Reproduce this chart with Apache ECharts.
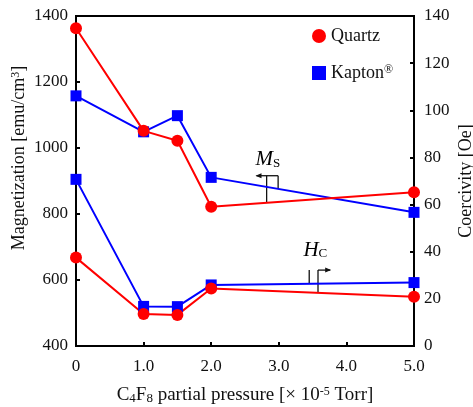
<!DOCTYPE html>
<html>
<head>
<meta charset="utf-8">
<script src="https://cdn.jsdelivr.net/npm/echarts@6/dist/echarts.min.js"></script>
<style>
  html, body { margin: 0; padding: 0; background: #fff; }
  #chart { width: 473px; height: 407px; }
</style>
</head>
<body>
<div id="chart"></div>
<script>
// C4F8 partial pressure (x 10^-5 Torr)
var pressure = [0, 1.0, 1.5, 2.0, 5.0]
// saturation magnetization [emu/cm3], left axis
var quartzMs = [1363, 1052, 1022, 822, 866]
var kaptonMs = [1158, 1049, 1098, 911, 805]
// coercivity [Oe], right axis
var quartzHc = [37.5, 13.6, 13.2, 24.4, 20.9]
var kaptonHc = [70.7, 16.8, 16.7, 25.9, 26.9]

var RED = '#ff0000'
var BLUE = '#0000ff'
var FONT = 'Liberation Serif'
var INK = '#111'

function pairs (xs, ys) {
  return xs.map(function (x, i) { return [x, ys[i]] })
}

// linear interpolation along a series, used to land the bracket feet on the lines
function interp (xs, ys, x) {
  for (var i = 0; i < xs.length - 1; i++) {
    if (x >= xs[i] && x <= xs[i + 1]) {
      var t = (x - xs[i]) / (xs[i + 1] - xs[i])
      return ys[i] + t * (ys[i + 1] - ys[i])
    }
  }
  return ys[ys.length - 1]
}

var sub = { fontFamily: FONT, fontSize: 13, verticalAlign: 'bottom', lineHeight: 13, color: INK }
var sup = { fontFamily: FONT, fontSize: 12, verticalAlign: 'top', lineHeight: 12, color: INK }

function lineSeries (name, data, color, symbol, size, yIndex) {
  return {
    name: name,
    type: 'line',
    yAxisIndex: yIndex,
    data: data,
    symbol: symbol,
    symbolSize: size,
    clip: false,
    lineStyle: { color: color, width: 2 },
    itemStyle: { color: color },
    emphasis: { disabled: true },
    animation: false
  }
}

var chart = echarts.init(document.getElementById('chart'))
chart.setOption({
  backgroundColor: '#fff',
  animation: false,
  grid: {
    left: 76,
    right: 59,
    top: 16,
    bottom: 61,
    containLabel: false,
    outerBoundsMode: 'none',
    show: true,
    borderColor: '#000',
    borderWidth: 2
  },
  legend: {
    orient: 'vertical',
    left: 307,
    top: 22,
    itemWidth: 14,
    itemHeight: 14,
    itemGap: 19,
    textStyle: {
      fontFamily: FONT,
      fontSize: 18,
      lineHeight: 18,
      color: INK,
      rich: { sup: sup }
    },
    formatter: function (name) {
      return name === 'Kapton' ? 'Kapton{sup|®}' : name
    },
    data: [
      { name: 'Quartz', icon: 'circle' },
      { name: 'Kapton', icon: 'rect' }
    ]
  },
  xAxis: {
    type: 'value',
    min: 0,
    max: 5,
    interval: 1,
    name: 'C{sub|4}F{sub|8} partial pressure [\u00d7 10{sup|-5} Torr]',
    nameLocation: 'middle',
    nameGap: 40,
    nameTextStyle: {
      fontFamily: FONT,
      fontSize: 19,
      color: INK,
      rich: { sub: sub, sup: sup }
    },
    axisLine: { lineStyle: { color: '#000', width: 2 } },
    axisTick: { inside: true, length: 4, lineStyle: { color: '#000', width: 2 } },
    splitLine: { show: false },
    axisLabel: {
      margin: 12,
      fontFamily: FONT,
      fontSize: 17,
      color: INK,
      formatter: function (v) { return v === 0 ? '0' : v.toFixed(1) }
    }
  },
  yAxis: [
    {
      type: 'value',
      position: 'left',
      min: 400,
      max: 1400,
      interval: 200,
      name: 'Magnetization [emu/cm{sup|3}]',
      nameLocation: 'middle',
      nameRotate: 90,
      nameGap: 48,
      nameMoveOverlap: false,
      nameTextStyle: {
        fontFamily: FONT,
        fontSize: 18,
        color: INK,
        padding: [0, 0, 0, 46],
        rich: { sup: sup }
      },
      axisLine: { show: true, lineStyle: { color: '#000', width: 2 } },
      axisTick: { show: true, inside: true, length: 4, lineStyle: { color: '#000', width: 2 } },
      splitLine: { show: false },
      axisLabel: {
        margin: 8,
        fontFamily: FONT,
        fontSize: 17,
        color: INK,
        formatter: function (v) { return String(v) }
      }
    },
    {
      type: 'value',
      position: 'right',
      min: 0,
      max: 140,
      interval: 20,
      name: 'Coercivity [Oe]',
      nameLocation: 'middle',
      nameRotate: 90,
      nameGap: 43,
      nameMoveOverlap: false,
      nameTextStyle: { fontFamily: FONT, fontSize: 18, color: INK },
      axisLine: { show: true, lineStyle: { color: '#000', width: 2 } },
      axisTick: { show: true, inside: true, length: 4, lineStyle: { color: '#000', width: 2 } },
      splitLine: { show: false },
      axisLabel: { margin: 10, fontFamily: FONT, fontSize: 17, color: INK }
    }
  ],
  series: [
    lineSeries('Kapton', pairs(pressure, kaptonMs), BLUE, 'rect', 11, 0),
    lineSeries('Kapton', pairs(pressure, kaptonHc), BLUE, 'rect', 11, 1),
    lineSeries('Quartz', pairs(pressure, quartzMs), RED, 'circle', 12, 0),
    lineSeries('Quartz', pairs(pressure, quartzHc), RED, 'circle', 12, 1)
  ]
})

// Ms / Hc brackets with arrows pointing to their axes
function px (x, y, yIndex) {
  return chart.convertToPixel({ xAxisIndex: 0, yAxisIndex: yIndex }, [x, y])
}

function bracket (xRed, xBlue, xTip, yTop, redYs, blueYs, yIndex) {
  var top1 = px(xRed, yTop, yIndex)
  var top2 = px(xBlue, yTop, yIndex)
  var tip = px(xTip, yTop, yIndex)
  var footRed = px(xRed, interp(pressure, redYs, xRed), yIndex)
  var footBlue = px(xBlue, interp(pressure, blueYs, xBlue), yIndex)
  var dir = xTip < xRed ? 1 : -1
  var inner = dir === 1 ? top2 : top1
  var st = { stroke: '#111', lineWidth: 1.3 }
  return [
    { type: 'line', shape: { x1: top1[0], y1: top1[1], x2: footRed[0], y2: footRed[1] }, style: st },
    { type: 'line', shape: { x1: top2[0], y1: top2[1], x2: footBlue[0], y2: footBlue[1] }, style: st },
    { type: 'line', shape: { x1: inner[0], y1: inner[1], x2: tip[0], y2: tip[1] }, style: st },
    {
      type: 'polygon',
      shape: { points: [[tip[0] - dir * 1, tip[1]], [tip[0] + dir * 5, tip[1] - 2.5], [tip[0] + dir * 5, tip[1] + 2.5]] },
      style: { fill: '#111' }
    }
  ]
}

var msLabel = px(2.84, 964, 0)
var hcLabel = px(3.54, 40.7, 1)
var labelRich = {
  m: { fontFamily: FONT, fontSize: 21, fontStyle: 'italic', color: INK, lineHeight: 21, verticalAlign: 'bottom' },
  s: { fontFamily: FONT, fontSize: 13, color: INK, lineHeight: 13, verticalAlign: 'bottom' }
}

var elements = []
  .concat(bracket(2.82, 2.99, 2.67, 916, quartzMs, kaptonMs, 0))
  .concat(bracket(3.58, 3.45, 3.76, 32.2, quartzHc, kaptonHc, 1))
  .concat([
    {
      type: 'text',
      x: msLabel[0],
      y: msLabel[1],
      style: { text: '{m|M}{s|S}', rich: labelRich, align: 'center', verticalAlign: 'middle' }
    },
    {
      type: 'text',
      x: hcLabel[0],
      y: hcLabel[1],
      style: { text: '{m|H}{s|C}', rich: labelRich, align: 'center', verticalAlign: 'middle' }
    }
  ])

chart.setOption({ graphic: elements })
</script>
</body>
</html>
